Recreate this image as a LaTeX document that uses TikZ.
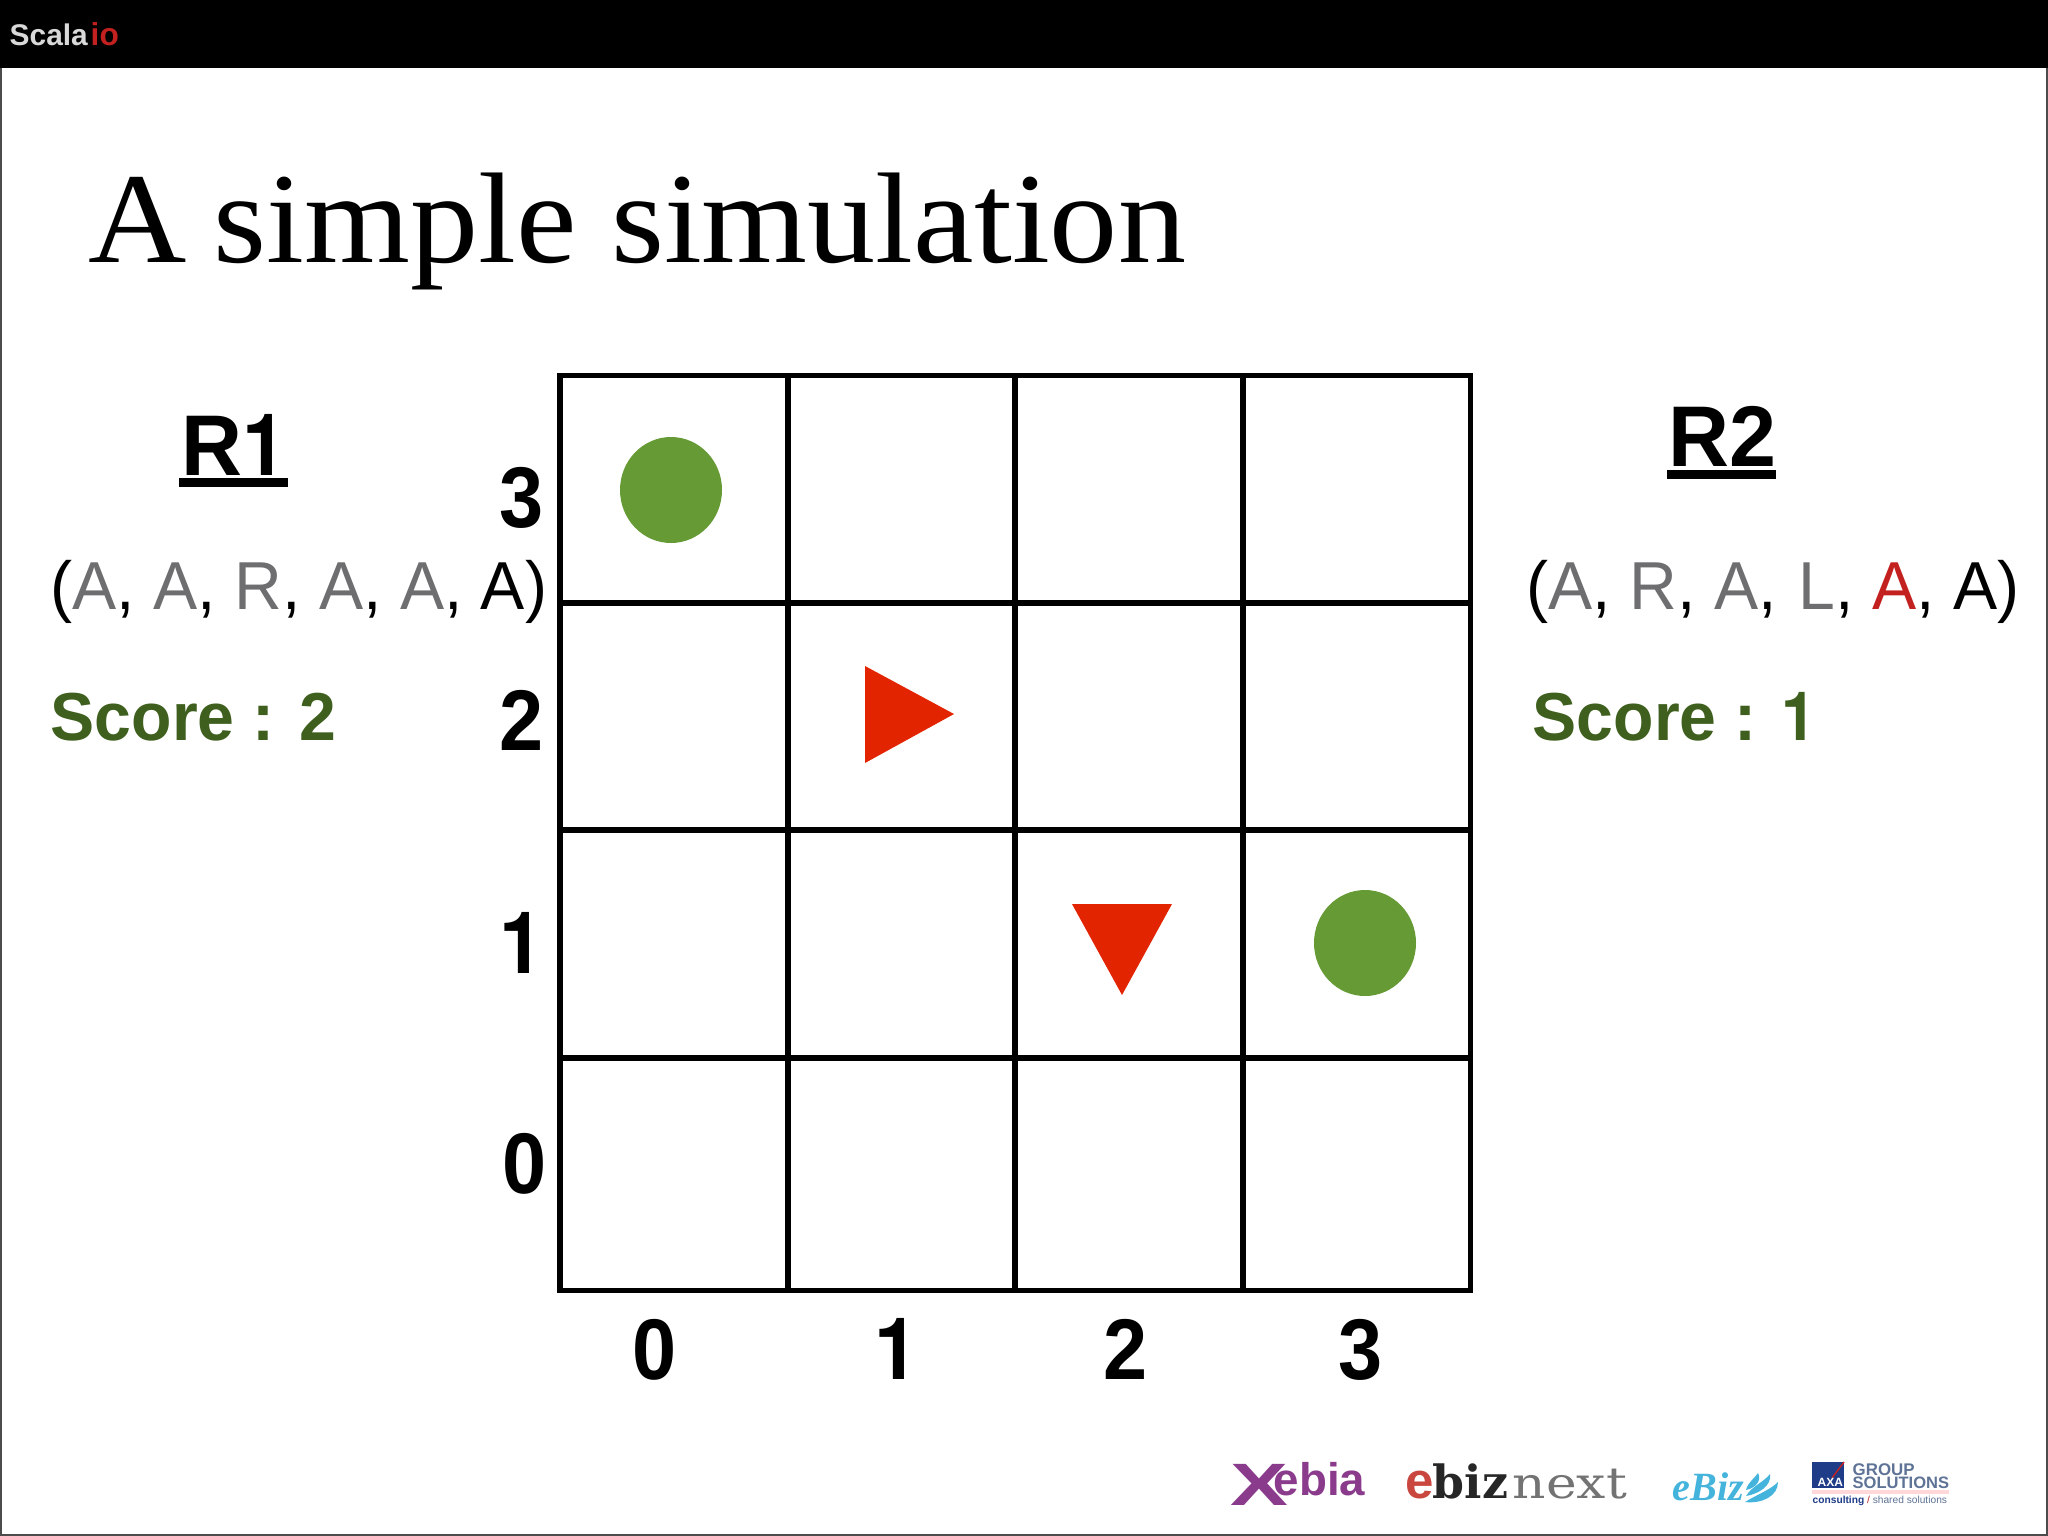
\documentclass[tikz,border=0pt]{standalone}
\usepackage{fontspec}
\setmainfont{Liberation Serif}
\setsansfont{Liberation Sans}
\newfontfamily\titleface[FakeStretch=1.055]{Liberation Serif}
\newfontfamily\axisface[FakeStretch=0.92]{Liberation Sans}
\newfontfamily\playerface[FakeStretch=0.98]{Liberation Sans}
\newfontfamily\oneface[FakeStretch=0.92]{TeX Gyre Heros}
\newfontfamily\tupleface[FakeStretch=0.975]{Liberation Sans}
\newfontfamily\logoface[FakeStretch=1.2]{DejaVu Serif}
\newfontfamily\bizface{DejaVu Serif}
\newfontfamily\xface[FakeStretch=1.45]{Liberation Sans}
\definecolor{scoregreen}{HTML}{3E5F1E}
\definecolor{dotgreen}{HTML}{669A34}
\definecolor{movered}{HTML}{E32400}
\definecolor{donegray}{HTML}{6E6E70}
\definecolor{hitred}{HTML}{C3211F}
\definecolor{xebiapurple}{HTML}{8A3B8C}
\definecolor{ebizred}{HTML}{C9473F}
\definecolor{ebizcyan}{HTML}{45B4DC}
\definecolor{axablue}{HTML}{1F3C88}
\definecolor{axagray}{HTML}{5F7396}
\tikzset{
	gridline/.style={line width=1.5pt},
	titletext/.style={font=\titleface\fontsize{36.7}{44}\selectfont,inner sep=0,anchor=base west},
	axislabel/.style={font=\axisface\bfseries\fontsize{24.5}{28}\selectfont,inner sep=0,anchor=base},
	playerlabel/.style={font=\playerface\bfseries\fontsize{24.5}{28}\selectfont,inner sep=0,anchor=base},
	tupletext/.style={font=\tupleface\fontsize{19.3}{23}\selectfont,inner sep=0,anchor=base west},
	scoretext/.style={font=\tupleface\bfseries\fontsize{19.3}{23}\selectfont,inner sep=0,anchor=base west,text=scoregreen},
	logotext/.style={inner sep=0,anchor=base west},
	swirl/.style={fill=ebizcyan}
}
\newcommand{\dn}[1]{\textcolor{donegray}{#1}}
\newcommand{\digitone}{{\oneface 1}}
\begin{document}
\begin{tikzpicture}[x=0.01cm,y=-0.01cm]
	\useasboundingbox (0,0) rectangle (2048,1536);
	\fill[white] (0,0) rectangle (2048,1536);
	\draw[line width=0.7pt,black!70] (0.5,60) -- (0.5,1535) -- (2047.5,1535) -- (2047.5,60);
	
	% top bar
	\fill[black] (0,0) rectangle (2048,68);
	\node[logotext,text=black!15,font=\sffamily\bfseries\fontsize{8.5}{10}\selectfont] (scala) at (9,45) {Scala};
	\node[logotext,text=hitred,font=\sffamily\bfseries\fontsize{9}{10}\selectfont] (io) at (90,45) {io};
	
	\node[titletext] (title) at (88,262) {A\kern-2pt\ simple simulation};
	
	% the grid
	\draw[gridline] (560,375.5) rectangle (1470.5,1290.5);
	\draw[gridline] (788,375.5) -- (788,1290.5);
	\draw[gridline] (1015,375.5) -- (1015,1290.5);
	\draw[gridline] (1243,375.5) -- (1243,1290.5);
	\draw[gridline] (560,603) -- (1470.5,603);
	\draw[gridline] (560,830) -- (1470.5,830);
	\draw[gridline] (560,1058) -- (1470.5,1058);
	
	\node[axislabel] (y3) at (522,527) {3};
	\node[axislabel] (y2) at (522,750) {2};
	\node[axislabel] (y1) at (522,973) {\digitone};
	\node[axislabel] (y0) at (525,1193) {0};
	\node[axislabel] (x0) at (655,1379) {0};
	\node[axislabel] (x1) at (897,1379) {\digitone};
	\node[axislabel] (x2) at (1126,1379) {2};
	\node[axislabel] (x3) at (1361,1379) {3};
	
	% balls and robots
	\fill[dotgreen] (671,490) ellipse (51 and 53);
	\fill[dotgreen] (1365,943) ellipse (51 and 53);
	\fill[movered] (865,666) -- (865,763) -- (954,714) -- cycle;
	\fill[movered] (1072,904) -- (1172,904) -- (1122,995) -- cycle;
	
	% left player
	\node[playerlabel] (rone) at (234,475) {R\digitone};
	\fill (179,478) rectangle (288,487);
	\node[tupletext] (tupleone) at (50,609) {(\dn{A}, \dn{A}, \dn{R}, \dn{A}, \dn{A}, A)};
	\node[scoretext] (scoreone) at (50,740) {Score : 2};
	
	% right player
	\node[playerlabel] (rtwo) at (1722,466) {R2};
	\fill (1667,470) rectangle (1776,479);
	\node[tupletext] (tupletwo) at (1526,609) {(\dn{A}, \dn{R}, \dn{A}, \kern1pt\dn{L}, \textcolor{hitred}{A}, A)};
	\node[scoretext] (scoretwo) at (1532,740) {Score : \digitone};
	
	% logos
	\node[logotext,text=xebiapurple,font=\xface\bfseries\fontsize{17}{20}\selectfont] (xebiax) at (1230,1505) {X};
	\node[logotext,text=xebiapurple,font=\sffamily\bfseries\fontsize{13}{14}\selectfont] (xebia) at (1273,1495) {ebia};
	\node[logotext,text=ebizred,font=\sffamily\bfseries\fontsize{14.5}{16}\selectfont] (ebize) at (1405,1498) {e};
	\node[logotext,text=black!85,font=\bizface\bfseries\fontsize{13}{14}\selectfont] (ebizb) at (1432,1498) {biz};
	\node[logotext,text=black!55,font=\logoface\fontsize{12.3}{14}\selectfont] (ebizn) at (1512,1498) {next};
	\node[logotext,text=ebizcyan,font=\rmfamily\bfseries\itshape\fontsize{11.4}{12}\selectfont] (ebiz) at (1672,1500) {eBiz};
	\fill[swirl] (1745,1502) .. controls (1762,1504) and (1778,1496) .. (1778,1482) .. controls (1770,1490) and (1758,1494) .. (1745,1502) -- cycle;
	\fill[swirl] (1746,1496) .. controls (1758,1494) and (1772,1486) .. (1770,1474) .. controls (1764,1482) and (1752,1486) .. (1746,1496) -- cycle;
	\fill[swirl] (1746,1490) .. controls (1756,1488) and (1762,1480) .. (1758,1473) .. controls (1755,1478) and (1748,1482) .. (1746,1490) -- cycle;
	\fill[axablue] (1812,1462) rectangle (1844,1488);
	\draw[hitred,line width=0.4pt] (1844,1462) -- (1832,1478);
	\node[logotext,text=white,font=\sffamily\bfseries\fontsize{3.4}{4}\selectfont] (axa) at (1817,1486) {AXA};
	\node[logotext,text=axagray,font=\sffamily\bfseries\fontsize{4.8}{5}\selectfont] (group) at (1852,1475) {GROUP};
	\node[logotext,text=axagray,font=\sffamily\bfseries\fontsize{4.7}{5}\selectfont] (solutions) at (1852,1488) {SOLUTIONS};
	\fill[red!15] (1812,1490) rectangle (1949,1494);
	\node[logotext,text=axablue,font=\sffamily\fontsize{2.9}{4}\selectfont] (shared) at (1812,1503) {\textbf{consulting} \textcolor{hitred}{/} \textcolor{axagray}{shared solutions}};
\end{tikzpicture}
\end{document}
